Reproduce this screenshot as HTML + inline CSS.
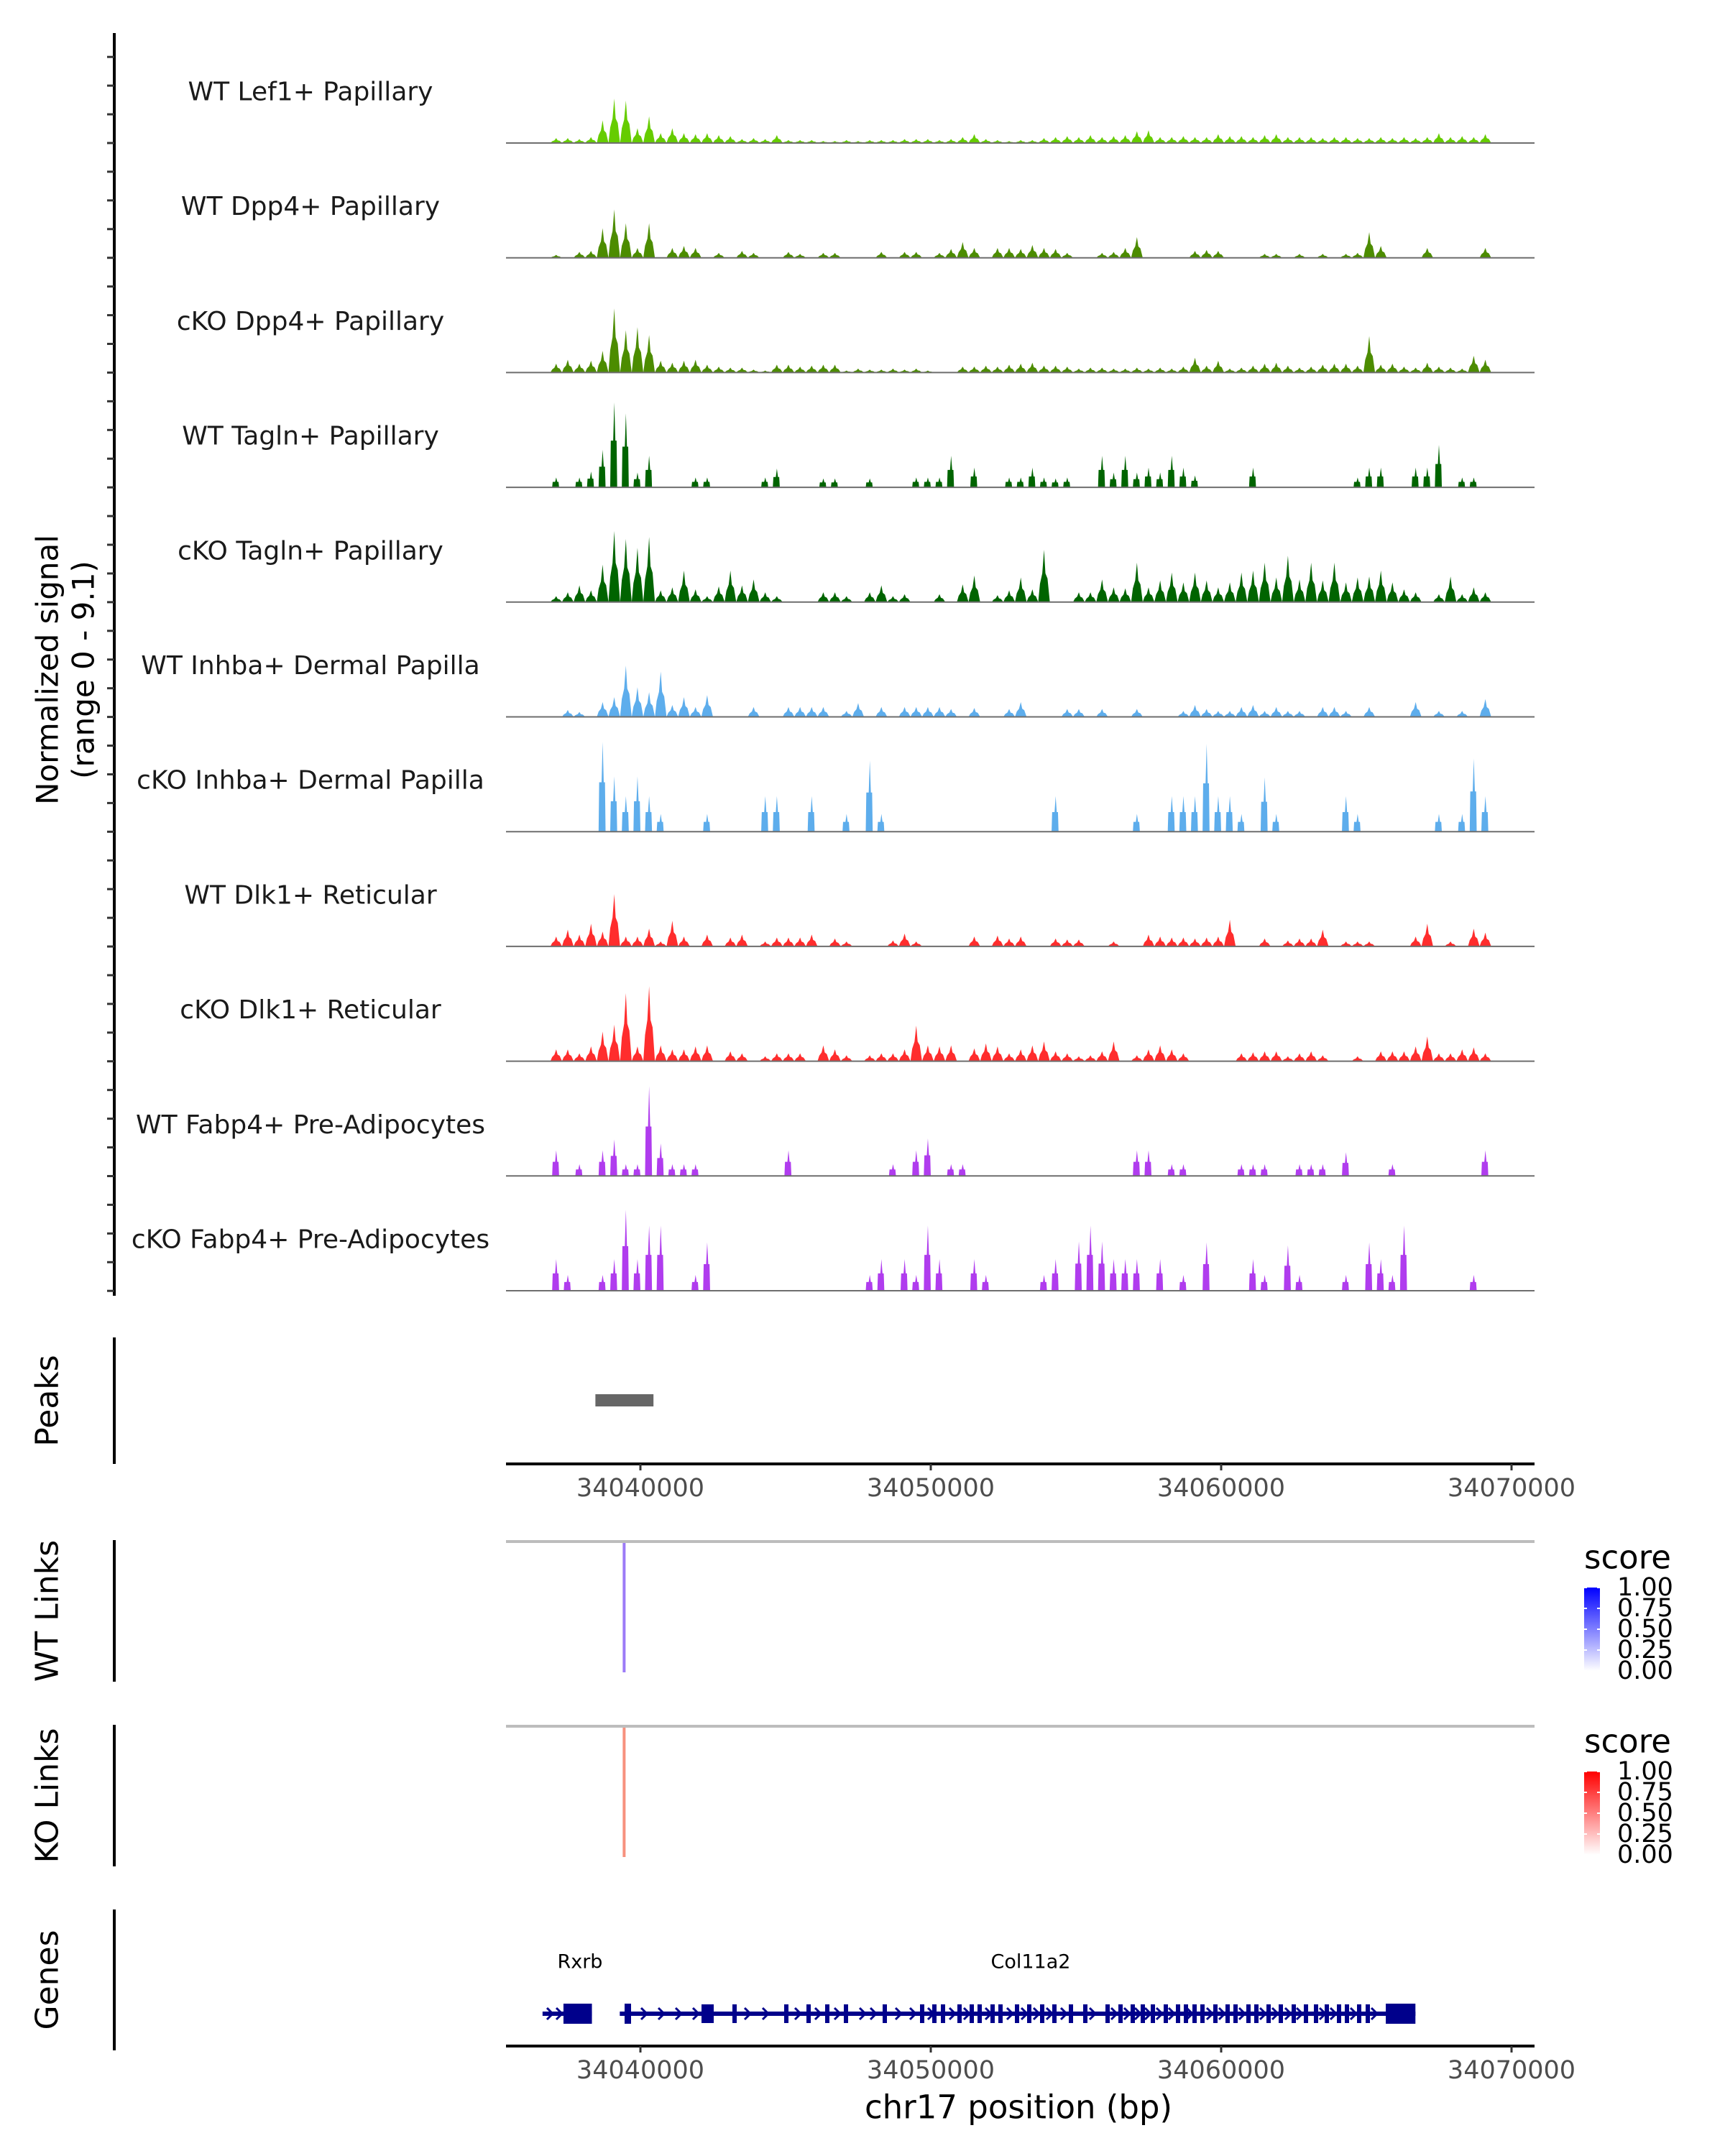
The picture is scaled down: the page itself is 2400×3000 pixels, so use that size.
<!DOCTYPE html>
<html><head><meta charset="utf-8"><style>
html,body{margin:0;padding:0;background:#fff;}
svg{display:block;font-family:"DejaVu Sans","Liberation Sans",sans-serif;}
</style></head><body>
<svg id="chart" width="2400" height="3000" viewBox="0 0 2400 3000" xmlns="http://www.w3.org/2000/svg">
<rect x="0" y="0" width="2400" height="3000" fill="#fff"/>
<g id="tracks"></g>
<g id="frame"></g>
</svg>
<script>
// ---- data ----
const trackNames = ["WT Lef1+ Papillary","WT Dpp4+ Papillary","cKO Dpp4+ Papillary","WT Tagln+ Papillary","cKO Tagln+ Papillary","WT Inhba+ Dermal Papilla","cKO Inhba+ Dermal Papilla","WT Dlk1+ Reticular","cKO Dlk1+ Reticular","WT Fabp4+ Pre-Adipocytes","cKO Fabp4+ Pre-Adipocytes"];
const trackColors = ["#66CC00","#4C8C00","#4C8C00","#006400","#006400","#5DADEC","#5DADEC","#FF2D2D","#FF2D2D","#B03CEE","#B03CEE"];
const binStart = 34036900;
const binSize = 400;
const signalMax = 9.1;
const sLef1WT = [0.5,0.5,0.4,0.6,2.3,4.5,4.3,1.5,2.7,1.0,1.5,1.0,0.9,1.0,0.8,0.7,0.4,0.5,0.4,0.8,0.3,0.3,0.3,0.2,0.2,0.3,0.2,0.3,0.3,0.3,0.4,0.4,0.4,0.3,0.4,0.6,0.9,0.4,0.3,0.2,0.3,0.3,0.5,0.6,0.7,0.6,0.8,0.6,0.7,0.8,1.2,1.3,0.6,0.6,0.7,0.6,0.6,0.9,0.7,0.7,0.6,0.8,0.9,0.6,0.6,0.6,0.5,0.6,0.6,0.5,0.5,0.6,0.5,0.6,0.5,0.6,1.0,0.6,0.7,0.6,0.9];
const sDpp4WT = [0.3,0,0.6,0.7,3.0,4.9,3.5,1.0,3.5,0,1.0,1.2,1.0,0,0.5,0,0.7,0.5,0,0,0.6,0.4,0,0.5,0.5,0,0,0,0.6,0,0.6,0.6,0,0.5,0.9,1.6,1.0,0,1.0,1.0,0.9,1.3,1.0,0.9,0.5,0,0,0.5,0.6,1.0,2.1,0,0,0,0,0.7,0.8,0.7,0,0,0,0.4,0.4,0,0.4,0,0.4,0,0.4,0.5,2.6,1.2,0,0,0,1.0,0,0,0,0,1.0];
const sDpp4KO = [0.9,1.3,0.9,1.2,2.2,6.5,4.3,4.6,3.8,1.2,1.0,1.2,1.3,0.8,0.6,0.5,0.5,0.3,0.2,0.8,0.8,0.6,0.7,0.8,0.8,0.2,0.4,0.3,0.3,0.4,0.3,0.4,0.2,0,0,0.6,0.6,0.7,0.6,0.8,0.9,1.0,0.7,0.7,0.6,0.4,0.5,0.5,0.4,0.4,0.5,0.4,0.5,0.4,0.6,1.5,0.7,1.2,0.4,0.5,0.7,0.9,1.0,0.7,0.5,0.6,0.8,0.9,0.9,0.7,3.7,0.8,0.9,0.6,0.5,1.0,0.6,0.5,0.4,1.7,1.3];
const sTaglnWT = [1.0,0,1.0,1.6,3.8,8.6,7.5,1.5,3.2,0,0,0,1.0,1.0,0,0,0,0,1.0,1.9,0,0,0,0.9,0.9,0,0,0.9,0,0,0,1.0,1.0,1.0,3.2,0,2.0,0,0,1.0,1.0,2.0,1.0,0.9,1.0,0,0,3.2,1.5,3.2,1.5,2.0,1.5,3.2,2.0,1.2,0,0,0,0,2.0,0,0,0,0,0,0,0,0,1.0,2.0,2.0,0,0,2.0,2.0,4.3,0,1.0,1.0,0];
const sTaglnKO = [0.6,1.0,1.7,1.2,3.8,7.2,6.4,5.5,6.6,1.2,1.5,3.2,1.3,0.6,1.6,3.2,1.7,2.3,1.0,0.6,0,0,0,1.0,1.0,0.6,0,1.0,1.7,0.6,0.8,0,0,0.8,0,1.8,2.7,0,0.7,1.2,2.5,1.3,5.3,0,0,1.0,1.0,2.3,1.5,1.4,4.0,1.5,2.2,3.0,2.0,3.0,2.2,1.5,2.0,3.0,3.2,4.0,2.5,4.7,2.3,4.0,2.2,4.0,2.0,2.5,2.6,3.2,2.0,1.3,1.0,0,0.8,2.6,0.8,1.5,1.0];
const sInhbaWT = [0,0.7,0.5,0,1.5,2.0,5.2,3.0,2.5,4.6,1.2,2.0,1.0,2.2,0,0,0,1.0,0,0,1.0,1.0,1.0,1.0,0,0.6,1.4,0,1.0,0,1.0,1.0,1.0,1.0,0.8,0,0.9,0,0,0.8,1.5,0,0,0,0.8,0.8,0,0.8,0,0,0.8,0,0,0,0.6,1.2,0.8,0.6,0.6,1.0,1.2,0.6,1.0,0.6,0.6,0,1.0,1.0,0.6,0,1.0,0,0,0,1.5,0,0.6,0,0.6,0,1.8];
const sInhbaKO = [0,0,0,0,9.1,5.6,3.6,5.6,3.6,1.8,0,0,0,1.8,0,0,0,0,3.6,3.6,0,0,3.6,0,0,1.8,0,7.2,1.8,0,0,0,0,0,0,0,0,0,0,0,0,0,0,3.6,0,0,0,0,0,0,1.8,0,0,3.6,3.6,3.6,8.9,3.6,3.6,1.8,0,5.5,1.8,0,0,0,0,0,3.6,1.8,0,0,0,0,0,0,1.8,0,1.8,7.4,3.6];
const sDlk1WT = [1.0,1.7,1.2,2.3,1.5,5.3,1.0,1.0,1.8,0.5,2.6,1.0,0,1.2,0,0.9,1.2,0,0.5,0.9,0.9,0.9,1.2,0,0.8,0.5,0,0,0,0.6,1.3,0.5,0,0,0,0,1.0,0,1.1,0.8,1.0,0,0,0.8,0.7,0.7,0,0,0.5,0,0,1.2,1.0,0.9,0.9,0.8,0.9,1.0,2.7,0,0,0.8,0,0.6,0.8,0.8,1.7,0,0.5,0.5,0.5,0,0,0,1.0,2.3,0,0.5,0,1.8,1.4];
const sDlk1KO = [1.2,1.2,0.8,1.5,3.0,3.7,6.9,1.5,7.6,1.6,1.2,1.2,1.5,1.6,0,1.0,0.8,0,0.5,0.8,0.8,0.8,0,1.6,1.2,0.6,0,0.6,0.8,0.8,1.2,3.6,1.6,1.5,1.6,0,1.3,1.8,1.5,0.8,1.2,1.6,2.0,1.0,0.8,0.5,0.6,1.0,2.0,0,0.6,1.2,1.6,1.2,0.8,0,0,0,0,0.8,0.9,1.0,1.0,0.5,0.8,1.0,0.6,0,0,0.5,0,1.0,1.0,1.0,1.5,2.5,0.8,0.8,1.2,1.4,0.8];
const sFabp4WT = [2.6,0,1.2,0,2.6,3.7,1.2,1.2,9.1,3.3,1.2,1.2,1.2,0,0,0,0,0,0,0,2.6,0,0,0,0,0,0,0,0,1.2,0,2.6,3.8,0,1.2,1.2,0,0,0,0,0,0,0,0,0,0,0,0,0,0,2.6,2.6,0,1.2,1.2,0,0,0,0,1.2,1.2,1.2,0,0,1.2,1.2,1.2,0,2.4,0,0,0,1.2,0,0,0,0,0,0,0,2.6];
const sFabp4KO = [3.2,1.6,0,0,1.6,3.2,8.2,3.2,6.6,6.6,0,0,1.6,4.9,0,0,0,0,0,0,0,0,0,0,0,0,0,1.6,3.2,0,3.2,1.6,6.6,3.2,0,0,3.2,1.6,0,0,0,0,1.6,3.2,0,5.0,6.6,5.0,3.2,3.2,3.2,0,3.2,0,1.6,0,4.9,0,0,0,3.2,1.6,0,4.6,1.6,0,0,0,1.6,0,4.9,3.2,1.6,6.6,0,0,0,0,0,1.6,0];
const trackSignals = [sLef1WT,sDpp4WT,sDpp4KO,sTaglnWT,sTaglnKO,sInhbaWT,sInhbaKO,sDlk1WT,sDlk1KO,sFabp4WT,sFabp4KO];
const xTicks = [34040000,34050000,34060000,34070000];
const peakRegions = [[34038450,34040450]];
const wtLinks = [[34039440,34039440,0.55]];
const koLinks = [[34039440,34039440,0.55]];
const legendTicks = ["1.00","0.75","0.50","0.25","0.00"];
const geneNames = ["Rxrb","Col11a2"];
const geneStarts = [34036630,34039290];
const geneEnds = [34038330,34066690];
const geneBlocks = [[34037350,34038330],[34065670,34066690]];
const geneLabelPos = [34037920,34053440];

// ---- scales ----
const NS = "http://www.w3.org/2000/svg";
const X0 = 704, X1 = 2135;
function xs(bp){ return 891 + (bp - 34040000) / 10000 * 404; }
const base0 = 199, trackStep = 159.7, trackH = 125;
function ys(v, i){ return base0 + trackStep*i - v / signalMax * trackH; }
function mk(tag, attrs, parent){ const e=document.createElementNS(NS,tag); for(const k in attrs) e.setAttribute(k, attrs[k]); parent.appendChild(e); return e; }
const svg = document.getElementById('chart');
const gT = document.getElementById('tracks');
const gF = document.getElementById('frame');
const sparse = [false,false,false,true,false,false,true,false,false,true,true];

trackSignals.forEach((sig, t) => {
  const base = base0 + trackStep*t;
  const g = mk('g', {}, gT);
  
  
  let d = '';
  sig.forEach((v, i) => {
    if (v <= 0) return;
    const a = xs(binStart + binSize*i), b = xs(binStart + binSize*(i+1));
    const w = b - a;
    const top = ys(v, t);
    const mid = base - (base - top) * 0.55;
    if (sparse[t]) {
      const c = a + w*0.5;
      d += `M${a+w*0.15},${base}L${a+w*0.2},${mid}L${c-1.5},${mid}L${c},${top}L${c+1.5},${mid}L${a+w*0.7},${mid}L${a+w*0.75},${base}Z`;
    } else {
      d += `M${a},${base}L${a+w*0.15},${base-(base-top)*0.35}L${a+w*0.35},${mid}L${a+w*0.5},${top}L${a+w*0.62},${mid}L${a+w*0.8},${base-(base-top)*0.45}L${b},${base}Z`;
    }
  });
  const p = mk('path', {d: d, fill: trackColors[t]}, g);
  
  
  const ln = mk('line', {x1:X0, x2:X1, y1:base, y2:base, stroke:'#6e6e6e', 'stroke-width':2}, g);
  
  
  const tx = mk('text', {x:432, y:base-71, 'text-anchor':'middle', 'dominant-baseline':'central', 'font-size':36, fill:'#1a1a1a'}, g);
  tx.textContent = trackNames[t];
  
  
});

// left axis with ticks
let al = mk('line', {x1:159, x2:159, y1:46, y2:1803, stroke:'#000', 'stroke-width':4}, gF);


for (let y = base0 - 3*39.93; y <= 1800; y += 39.93) {
  const tk = mk('line', {x1:149, x2:159, y1:y, y2:y, stroke:'#333', 'stroke-width':3}, gF);
  
  
}
function vtext(txt, x, y, size, name){
  const e = mk('text', {x:x, y:y, transform:`rotate(-90 ${x} ${y})`, 'text-anchor':'middle', 'dominant-baseline':'central', 'font-size':size, fill:'#000'}, gF);
  e.textContent = txt;
  
  
}
vtext('Normalized signal', 66, 932, 42, 'y-axis-title');
vtext('(range 0 - 9.1)', 116, 932, 42, 'y-axis-subtitle');

// peaks
function vaxis(y1, y2, name){ const e = mk('line', {x1:159, x2:159, y1:y1, y2:y2, stroke:'#000', 'stroke-width':4}, gF);   }
vaxis(1861, 2037, 'peaks-axis');
vtext('Peaks', 66, 1949, 44, 'peaks-title');
peakRegions.forEach(r => {
  const e = mk('rect', {x:xs(r[0]), y:1940, width:xs(r[1])-xs(r[0]), height:17, fill:'#666'}, gF);
  
  
});

function xaxis(y, name){
  const e = mk('line', {x1:X0, x2:X1, y1:y, y2:y, stroke:'#000', 'stroke-width':4}, gF);
  
  
  xTicks.forEach(v => {
    const tk = mk('line', {x1:xs(v), x2:xs(v), y1:y, y2:y+9, stroke:'#333', 'stroke-width':3}, gF);
    
    
    const tl = mk('text', {x:xs(v), y:y+34, 'text-anchor':'middle', 'dominant-baseline':'central', 'font-size':35, fill:'#4d4d4d'}, gF);
    tl.textContent = v;
    
    
  });
}
xaxis(2037, 'peaks-x-axis');

// links
function linkPanel(top, bottom, links, color, title, gradTop, legendY, gid){
  vaxis(top, bottom, title.replace(' ','-').toLowerCase() + '-axis');
  vtext(title, 66, (top+bottom)/2, 44, title.replace(' ','-').toLowerCase() + '-title');
  const gl = mk('line', {x1:X0, x2:X1, y1:top+2, y2:top+2, stroke:'#bdbdbd', 'stroke-width':4}, gF);
  
  
  links.forEach(l => {
    const e = mk('line', {x1:xs(l[0]), x2:xs(l[1]), y1:top+4, y2:top+184, stroke:color, 'stroke-width':4}, gF);
    
    
  });
  const defs = mk('defs', {}, svg);
  const lg = mk('linearGradient', {id:gid, x1:0, y1:1, x2:0, y2:0}, defs);
  mk('stop', {offset:0, 'stop-color':'#ffffff'}, lg);
  mk('stop', {offset:1, 'stop-color':gradTop}, lg);
  const st = mk('text', {x:2204, y:legendY, 'dominant-baseline':'central', 'font-size':45, fill:'#000'}, gF);
  st.textContent = 'score';
  
  
  const by = legendY + 42;
  const bar = mk('rect', {x:2204, y:by, width:22, height:116, fill:`url(#${gid})`}, gF);
  
  
  legendTicks.forEach((t, i) => {
    const yy = by + i*29;
    mk('line', {x1:2204, x2:2208, y1:yy, y2:yy, stroke:'#fff', 'stroke-width':2}, gF);
    mk('line', {x1:2222, x2:2226, y1:yy, y2:yy, stroke:'#fff', 'stroke-width':2}, gF);
    const lt = mk('text', {x:2250, y:yy, 'dominant-baseline':'central', 'font-size':35, fill:'#000'}, gF);
    lt.textContent = t;
    
    
  });
}
linkPanel(2143, 2340, wtLinks, '#9C7BF7', 'WT Links', '#0000FF', 2167, 'gradWT');
linkPanel(2400, 2597, koLinks, '#F7917E', 'KO Links', '#FF0000', 2423, 'gradKO');

// genes
vaxis(2657, 2853, 'genes-axis');
vtext('Genes', 66, 2755, 44, 'genes-title');
const gy = 2802, navy = '#00008B';
const exonX = [979,990,1022,1094,1125,1151,1177,1231,1283,1300,1312,1335,1352,1363,1381,1392,1415,1432,1450,1467,1490,1510,1541,1559,1576,1590,1604,1622,1639,1650,1662,1673,1691,1708,1719,1737,1748,1765,1782,1800,1817,1831,1846,1863,1874,1891,1903];
geneNames.forEach((n, i) => {
  const a = xs(geneStarts[i]), b = xs(geneEnds[i]);
  const ln = mk('line', {x1:a, x2:b, y1:gy, y2:gy, stroke:navy, 'stroke-width':6}, gF);
  
  
  const bl = mk('rect', {x:xs(geneBlocks[i][0]), y:gy-14, width:xs(geneBlocks[i][1])-xs(geneBlocks[i][0]), height:28, fill:navy}, gF);
  
  
  const tl = mk('text', {x:xs(geneLabelPos[i]), y:2730, 'text-anchor':'middle', 'dominant-baseline':'central', 'font-size':27, fill:'#000'}, gF);
  tl.textContent = n;
  
  
});
mk('rect', {x:869, y:gy-14, width:9, height:28, fill:navy}, gF);
exonX.forEach(x => {
  const e = mk('rect', {x:x-3, y:gy-13, width:(x===979?12:6), height:26, fill:navy}, gF);
  
  
});
let chev = '';
const chevX = [765,778,896,920,944,968,1040,1065,1110,1138,1165,1200,1215,1250,1270,1295,1325,1345,1375,1405,1425,1442,1460,1480,1520,1550,1568,1583,1597,1613,1630,1655,1683,1700,1728,1757,1774,1792,1808,1840,1855,1883,1912];
chevX.forEach(x => { chev += `M${x-4},${gy-8}L${x+4},${gy}L${x-4},${gy+8}`; });
const cp = mk('path', {d:chev, fill:'none', stroke:navy, 'stroke-width':3}, gF);


xaxis(2847, 'genes-x-axis');
const xt = mk('text', {x:1417, y:2932, 'text-anchor':'middle', 'dominant-baseline':'central', 'font-size':45, fill:'#000'}, gF);
xt.textContent = 'chr17 position (bp)';


</script>
</body></html>
